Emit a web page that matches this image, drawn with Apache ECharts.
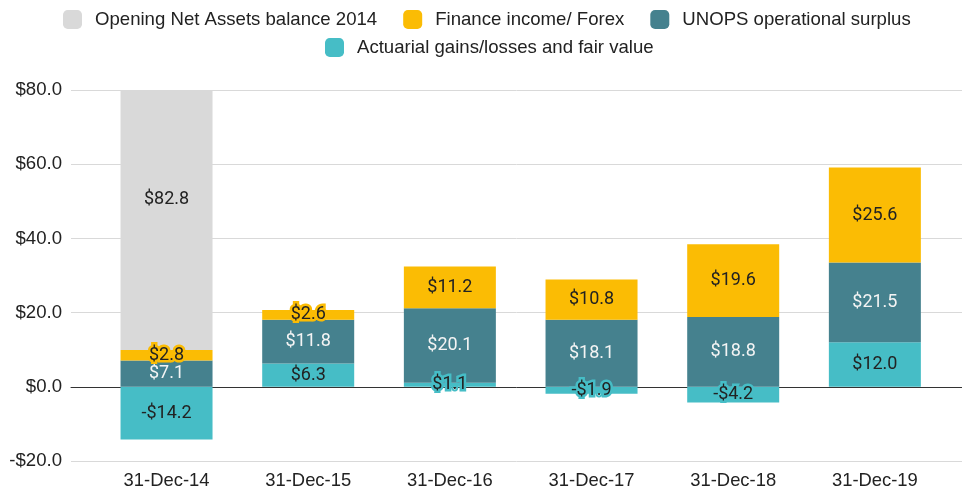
<!DOCTYPE html>
<html>
<head>
<meta charset="utf-8">
<script src="https://cdn.jsdelivr.net/npm/echarts@6/dist/echarts.min.js"></script>
<style>
  html, body { margin: 0; padding: 0; background: #fff; }
  #chart { width: 962px; height: 492px; }
</style>
</head>
<body>
<div id="chart"></div>
<script>
const categories = ['31-Dec-14', '31-Dec-15', '31-Dec-16', '31-Dec-17', '31-Dec-18', '31-Dec-19']
const openingBalance = [82.8, null, null, null, null, null]
const financeIncome = [2.8, 2.6, 11.2, 10.8, 19.6, 25.6]
const operationalSurplus = [7.1, 11.8, 20.1, 18.1, 18.8, 21.5]
const actuarialGains = [-14.2, 6.3, 1.1, -1.9, -4.2, 12.0]
const yMin = -20
const yMax = 80
const yStep = 20

const names = [
  'Opening Net Assets balance 2014',
  'Finance income/ Forex',
  'UNOPS operational surplus',
  'Actuarial gains/losses and fair value'
]
const colors = {
  opening: '#d9d9d9',
  finance: '#fbbc04',
  surplus: '#45818e',
  actuarial: '#46bdc6'
}

function money (v) {
  return v < 0 ? '-$' + Math.abs(v).toFixed(1) : '$' + v.toFixed(1)
}

// small segments get an outline in the segment colour, like the original
function withOutline (values, outlined, color) {
  return values.map((v, i) => {
    if (outlined.indexOf(i) === -1) return v
    return {
      value: v,
      label: { textBorderColor: color, textBorderWidth: 5 }
    }
  })
}

const labelBase = {
  show: true,
  position: 'inside',
  fontFamily: 'Roboto',
  fontSize: 18,
  color: '#222',
  formatter: p => money(p.value)
}

const chart = echarts.init(document.getElementById('chart'))
chart.setOption({
  animation: false,
  legend: [
    {
      left: 63,
      top: 10,
      data: names.slice(0, 3)
    },
    {
      left: 325,
      top: 38,
      data: names.slice(3)
    }
  ].map(l => Object.assign(l, {
    padding: 0,
    icon: 'roundRect',
    itemWidth: 19,
    itemHeight: 19,
    itemGap: 26,
    textStyle: {
      fontFamily: 'Liberation Sans',
      fontSize: 18.6,
      color: '#222',
      padding: [0, 0, 0, 8]
    }
  })),
  grid: [
    { left: 71, right: 0, top: 90, bottom: 31 },
    { left: 95.7, right: 16.3, top: 90, bottom: 31 }
  ],
  xAxis: [
    {
      gridIndex: 0,
      type: 'value',
      min: 0,
      max: 1,
      axisLine: { show: true, onZero: true, lineStyle: { color: '#333', width: 1 } },
      axisTick: { show: false },
      axisLabel: { show: false },
      splitLine: { show: false }
    },
    {
      gridIndex: 1,
      type: 'category',
      data: categories,
      axisLine: { show: false },
      axisTick: { show: false },
      axisLabel: {
        margin: 11,
        fontFamily: 'Liberation Sans',
        fontSize: 18.4,
        color: '#222'
      }
    }
  ],
  yAxis: [
    {
      gridIndex: 0,
      type: 'value',
      min: yMin,
      max: yMax,
      interval: yStep,
      axisLine: { show: false },
      axisTick: { show: false },
      axisLabel: {
        margin: 9,
        fontFamily: 'Liberation Sans',
        fontSize: 18.6,
        color: '#222',
        formatter: v => money(v)
      },
      splitLine: { lineStyle: { color: '#d9d9d9', width: 1 } }
    },
    {
      gridIndex: 1,
      type: 'value',
      min: yMin,
      max: yMax,
      interval: yStep,
      show: false,
      splitLine: { show: false }
    }
  ],
  series: [
    {
      name: names[3],
      data: withOutline(actuarialGains, [2, 3, 4], colors.actuarial),
      itemStyle: { color: colors.actuarial },
      label: labelBase
    },
    {
      name: names[2],
      data: operationalSurplus,
      itemStyle: { color: colors.surplus },
      label: Object.assign({}, labelBase, { color: '#f4f4f4' })
    },
    {
      name: names[1],
      data: withOutline(financeIncome, [0, 1], colors.finance),
      itemStyle: { color: colors.finance },
      label: labelBase
    },
    {
      name: names[0],
      data: openingBalance,
      itemStyle: { color: colors.opening },
      label: Object.assign({}, labelBase, { offset: [0, -21] })
    }
  ].map(s => Object.assign(s, {
    type: 'bar',
    stack: 'total',
    xAxisIndex: 1,
    yAxisIndex: 1,
    barWidth: 92
  }))
})
</script>
</body>
</html>
